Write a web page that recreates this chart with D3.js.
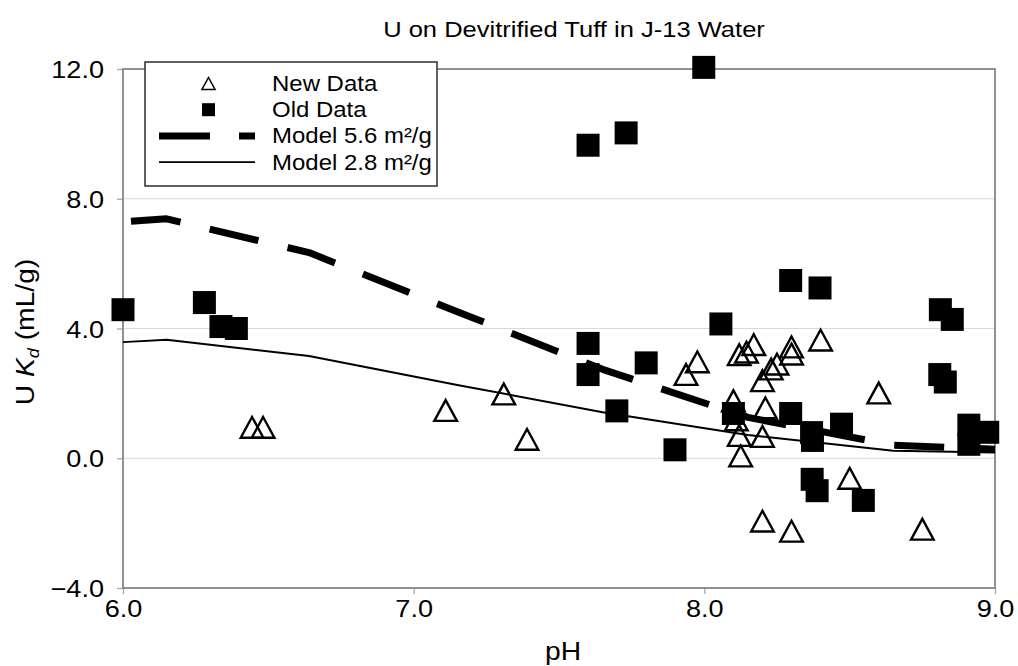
<!DOCTYPE html>
<html>
<head>
<meta charset="utf-8">
<script src="https://cdn.jsdelivr.net/npm/d3@7"></script>
<style>
  html, body { margin: 0; padding: 0; background: #fff; }
  svg { display: block; font-family: "Liberation Sans", Arial, Helvetica, sans-serif; }
</style>
</head>
<body>
<svg id="chart" width="1018" height="666"></svg>
<script>
// ---- data ----------------------------------------------------------
const chartTitle = "U on Devitrified Tuff in J-13 Water";
const xTicks = [6, 7, 8, 9];
const yTicks = [-4, 0, 4, 8, 12];

// New Data (open triangles): pH, Kd (mL/g)
const newPH = [6.444, 6.482, 7.11, 7.31, 7.39, 7.937, 7.976, 8.10, 8.11, 8.12, 8.125,
               8.20, 8.21, 8.20, 8.23, 8.25, 8.12, 8.145, 8.17, 8.30, 8.30, 8.40,
               8.60, 8.20, 8.30, 8.50, 8.75];
const newKd = [0.97, 0.97, 1.49, 2.00, 0.60, 2.60, 2.99, 1.79, 1.20, 0.72, 0.09,
               0.69, 1.57, 2.41, 2.77, 2.92, 3.21, 3.29, 3.52, 3.45, 3.23, 3.66,
               2.03, -1.92, -2.23, -0.60, -2.17];

// Old Data (filled squares): pH, Kd (mL/g)
const oldPH = [6.00, 6.28, 6.337, 6.39, 7.60, 7.731, 7.998, 7.60, 7.60, 7.80, 7.699,
               7.899, 8.057, 8.297, 8.398, 8.10, 8.297, 8.369, 8.372, 8.472, 8.371,
               8.388, 8.547, 8.812, 8.853, 8.81, 8.829, 8.91, 8.91, 8.975];
const oldKd = [4.58, 4.80, 4.06, 4.00, 9.65, 10.03, 12.05, 3.54, 2.58, 2.94, 1.46,
               0.26, 4.14, 5.48, 5.25, 1.38, 1.38, 0.79, 0.55, 1.05, -0.65,
               -1.00, -1.30, 4.58, 4.28, 2.58, 2.35, 1.02, 0.43, 0.80];

// Surface complexation model curves
const modelPH  = [6.00, 6.15, 6.64, 7.15, 7.65, 8.15, 8.65, 9.00];
const model56 = [7.29, 7.38, 6.34, 4.52, 2.74, 1.26, 0.40, 0.28];
const model28 = [3.58, 3.65, 3.15, 2.26, 1.42, 0.72, 0.23, 0.18];

const legendLabels = ["New Data", "Old Data", "Model 5.6 m\u00B2/g", "Model 2.8 m\u00B2/g"];

// ---- layout ----------------------------------------------------------
const svg = d3.select("#chart");
const plot = { left: 123, right: 995, top: 69, bottom: 588 };
const SX = 1.13;          // horizontal stretch applied to all text
const FS = 24;            // tick / axis-title font size

const x = d3.scaleLinear().domain([6, 9]).range([plot.left, plot.right]);
const y = d3.scaleLinear().domain([-4, 12]).range([plot.bottom, plot.top]);

function stretchedText(parent, px, py, str, anchor, size, sx) {
  const g = parent.append("g")
    .attr("transform", `translate(${px},${py}) scale(${sx || SX},1)`);
  return g.append("text")
    .attr("text-anchor", anchor)
    .attr("font-size", size)
    .attr("fill", "#000")
    .text(str);
}

// horizontal gridlines
svg.append("g").selectAll("line")
  .data(yTicks.filter(t => t > -4 && t < 12))
  .join("line")
  .attr("x1", plot.left).attr("x2", plot.right)
  .attr("y1", d => y(d)).attr("y2", d => y(d))
  .attr("stroke", "#d9d9d9").attr("stroke-width", 1.2);

// axes (ticks + labels)
const yAxis = svg.append("g")
  .attr("transform", `translate(${plot.left},0)`)
  .call(d3.axisLeft(y).tickValues(yTicks).tickSize(6).tickFormat(d3.format(".1f")));
const xAxis = svg.append("g")
  .attr("transform", `translate(0,${plot.bottom})`)
  .call(d3.axisBottom(x).tickValues(xTicks).tickSize(6).tickFormat(d3.format(".1f")));

[yAxis, xAxis].forEach(a => {
  a.select(".domain").remove();
  a.selectAll(".tick line").attr("stroke", "#a6a6a6").attr("stroke-width", 1.3);
  a.selectAll(".tick text")
    .attr("font-size", FS)
    .attr("font-family", "Liberation Sans, Arial, sans-serif")
    .attr("fill", "#000");
});
yAxis.selectAll(".tick text")
  .attr("x", -19 / SX).attr("dy", "0.36em")
  .attr("transform", `scale(${SX},1)`);
xAxis.selectAll(".tick text")
  .attr("y", 29.5).attr("dy", 0)
  .attr("transform", `scale(${SX},1)`);

// plot frame
svg.append("rect")
  .attr("x", plot.left).attr("y", plot.top)
  .attr("width", plot.right - plot.left).attr("height", plot.bottom - plot.top)
  .attr("fill", "none").attr("stroke", "#858585").attr("stroke-width", 1.8);

// model curves
const lineGen = d3.line().x(d => x(d[0])).y(d => y(d[1]));
const plotArea = svg.append("g");
plotArea.append("path")
  .datum(modelPH.map((p, i) => [p, model28[i]]))
  .attr("d", lineGen)
  .attr("fill", "none").attr("stroke", "#000").attr("stroke-width", 2)
  .attr("stroke-linejoin", "round");
plotArea.append("path")
  .datum(modelPH.map((p, i) => [p, model56[i]]))
  .attr("d", lineGen)
  .attr("fill", "none").attr("stroke", "#000").attr("stroke-width", 7)
  .attr("stroke-dasharray", "50,30").attr("stroke-dashoffset", 72)
  .attr("stroke-linejoin", "round");

// marker shapes
const SQ = 23;
const triPath = (hw, hh) => `M0,${-hh}L${hw},${hh}L${-hw},${hh}Z`;

// old data squares
plotArea.append("g").selectAll("rect")
  .data(oldPH.map((p, i) => [p, oldKd[i]]))
  .join("rect")
  .attr("x", d => x(d[0]) - SQ / 2).attr("y", d => y(d[1]) - SQ / 2)
  .attr("width", SQ).attr("height", SQ)
  .attr("fill", "#000");

// new data triangles (open)
plotArea.append("g").selectAll("path")
  .data(newPH.map((p, i) => [p, newKd[i]]))
  .join("path")
  .attr("transform", d => `translate(${x(d[0])},${y(d[1]) + 0.6})`)
  .attr("d", triPath(11.3, 10.4))
  .attr("fill", "none").attr("stroke", "#000").attr("stroke-width", 2.4)
  .attr("stroke-linejoin", "miter");

// title and axis titles
stretchedText(svg, 574, 37, chartTitle, "middle", 22.6);
stretchedText(svg, 563, 660, "pH", "middle", 25);

const yl = svg.append("g")
  .attr("transform", `translate(34,332) rotate(-90) scale(${SX},1)`)
  .append("text")
  .attr("text-anchor", "middle").attr("font-size", 25).attr("fill", "#000");
yl.append("tspan").text("U ");
yl.append("tspan").attr("font-style", "italic").text("K");
yl.append("tspan").attr("font-style", "italic").attr("font-size", 16).attr("dy", 5).text("d");
yl.append("tspan").attr("dy", -5).text(" (mL/g)");

// legend
const lg = svg.append("g");
lg.append("rect")
  .attr("x", 145).attr("y", 62).attr("width", 292).attr("height", 124)
  .attr("fill", "#fff").attr("stroke", "#3a3a3a").attr("stroke-width", 1.6);
const rowY = d3.range(legendLabels.length).map(i => 83.5 + i * 26.2);
const symX = 208.5, textX = 272;
lg.append("path")
  .attr("transform", `translate(${symX},${rowY[0]})`)
  .attr("d", triPath(6.6, 6))
  .attr("fill", "none").attr("stroke", "#000").attr("stroke-width", 1.5);
lg.append("rect")
  .attr("x", symX - 6.5).attr("y", rowY[1] - 6.5).attr("width", 13).attr("height", 13)
  .attr("fill", "#000");
lg.append("line")
  .attr("x1", 159).attr("x2", 255).attr("y1", rowY[2]).attr("y2", rowY[2])
  .attr("stroke", "#000").attr("stroke-width", 7).attr("stroke-dasharray", "51,29");
lg.append("line")
  .attr("x1", 159).attr("x2", 255).attr("y1", rowY[3]).attr("y2", rowY[3])
  .attr("stroke", "#000").attr("stroke-width", 1.8);
legendLabels.forEach((t, i) => stretchedText(lg, textX, rowY[i] + 7.5, t, "start", 22, 1.09));
</script>
</body>
</html>
